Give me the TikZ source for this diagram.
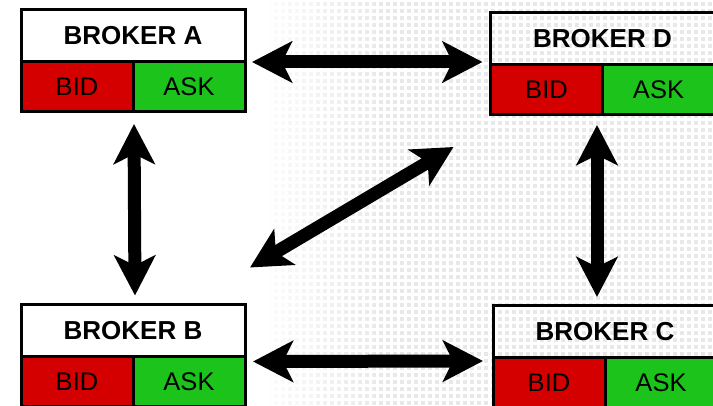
\documentclass[tikz,border=0pt]{standalone}
\usepackage{fontspec}
\setmainfont{Liberation Sans}
\usetikzlibrary{arrows.meta,calc,patterns}
\definecolor{bidred}{HTML}{D40000}
\definecolor{askgreen}{HTML}{1BC31B}
\pgfdeclarepatternformonly{bgdots}{\pgfqpoint{-1pt}{-1pt}}{\pgfqpoint{8pt}{8pt}}{\pgfqpoint{7pt}{7pt}}{\pgfpathrectangle{\pgfqpoint{1pt}{1pt}}{\pgfqpoint{4pt}{4pt}}\pgfusepath{fill}}
\begin{document}
\begin{tikzpicture}[x=1pt,y=-1pt,
  hdr/.style={draw=black,line width=3pt,inner sep=0pt,outer sep=0pt,minimum height=52pt,minimum width=224pt,font=\fontsize{26}{30}\selectfont\bfseries},
  cell/.style={draw=black,line width=3pt,inner sep=0pt,outer sep=0pt,minimum height=50pt,minimum width=112pt,font=\fontsize{25.5}{30}\selectfont},
  bidcell/.style={cell,fill=bidred},
  askcell/.style={cell,fill=askgreen},
  tipa/.tip={Stealth[length=40pt,width=41pt,inset=10pt]},
  dbl/.style={line width=13pt,black,tipa-tipa}]
\useasboundingbox (0,0) rectangle (713,406);
\fill[white] (0,0) rectangle (713,406);
\foreach \x/\c in {270/2,285/3,300/4,315/5,330/6,345/7,360/8}
  \fill[pattern=bgdots,pattern color=black!\c] (\x,0) rectangle (\x+15,406);
\fill[pattern=bgdots,pattern color=black!9] (375,0) rectangle (713,406);

% Broker A
\node[hdr] (Ah) at (133,36) {BROKER A};
\node[bidcell,anchor=north west] (Abid) at (Ah.south west) {BID};
\node[askcell,anchor=north east] (Aask) at (Ah.south east) {ASK};
% Broker D
\node[hdr] (Dh) at (602.5,39) {BROKER D};
\node[bidcell,anchor=north west] (Dbid) at (Dh.south west) {BID};
\node[askcell,anchor=north east] (Dask) at (Dh.south east) {ASK};
% Broker B
\node[hdr] (Bh) at (133,330.5) {BROKER B};
\node[bidcell,anchor=north west] (Bbid) at (Bh.south west) {BID};
\node[askcell,anchor=north east] (Bask) at (Bh.south east) {ASK};
% Broker C
\node[hdr] (Ch) at (605,332) {BROKER C};
\node[bidcell,anchor=north west] (Cbid) at (Ch.south west) {BID};
\node[askcell,anchor=north east] (Cask) at (Ch.south east) {ASK};

% connectors
\draw[dbl] ($(Ah.south east)+(7,0)$) -- ($(Dh.south west)+(-8,-3)$);
\draw[dbl] ($(Abid.south east)+(1,12)$) -- ($(Bh.north)+(2,-9)$);
\draw[dbl] ($(Dbid.south east)+(-5.5,10)$) -- ($(Dbid.south east |- Ch.north)+(-5.5,-9)$);
\draw[dbl] ($(Bh.south east)+(8,5)$) -- ($(Ch.south west)+(-10,3)$);
\draw[dbl] ($(Bh.north east)+(5,-37)$) -- ($(Dbid.south west)+(-37,32)$);
\end{tikzpicture}
\end{document}
